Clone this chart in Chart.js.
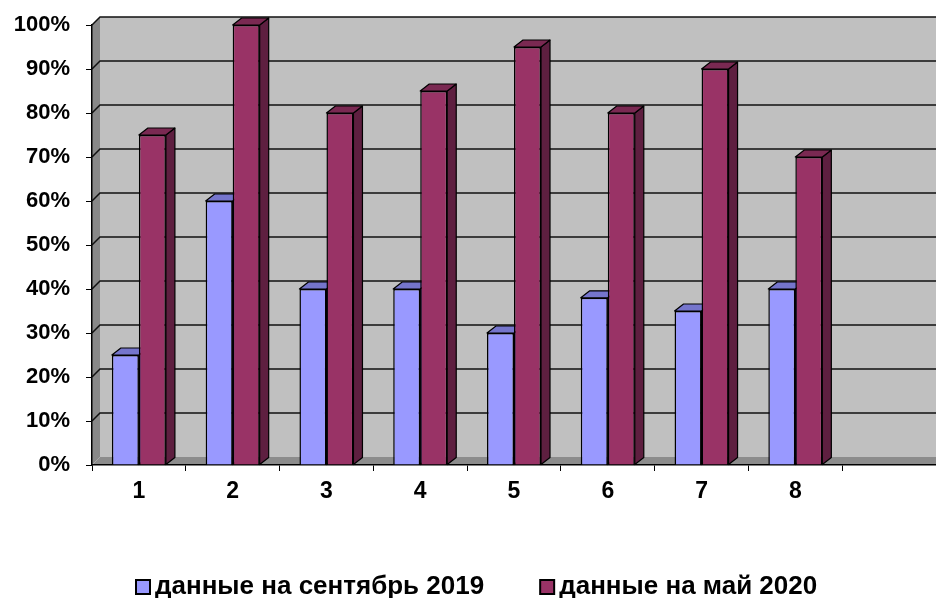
<!DOCTYPE html>
<html>
<head>
<meta charset="utf-8">
<script src="https://cdn.jsdelivr.net/npm/chart.js@4.4.1/dist/chart.umd.min.js"></script>
<style>
  html, body { margin: 0; background: #fff; }
  canvas { display: block; }
</style>
</head>
<body>
<canvas id="chart" width="936" height="598"></canvas>
<script>
/* ── data ── */
const CATEGORIES = ['1', '2', '3', '4', '5', '6', '7', '8', ''];
const SEP_2019 = [25, 60, 40, 40, 30, 38, 35, 40, null];
const MAY_2020 = [75, 100, 80, 85, 95, 80, 90, 70, null];
const SERIES_NAMES = ['данные на сентябрь 2019', 'данные на май 2020'];
const Y_TICKS = [0, 10, 20, 30, 40, 50, 60, 70, 80, 90, 100];

const FONT = '"Liberation Sans", Arial, sans-serif';
const FRONT = ['#9999FF', '#993366'];
const TOP = ['#7575CC', '#7A2952'];
const SIDE = ['#5E5EA3', '#5E1F40'];
const WALL_DX = 8, WALL_DY = 8;
const BAR_DX = 9, BAR_DY = 7;

/* Excel-style 3D box: walls + floor behind, then bar tops/sides before the front faces */
const depth3d = {
  id: 'depth3d',
  beforeDraw(chart) {
    const { ctx, chartArea: a } = chart;
    const y = chart.scales.y;
    ctx.save();
    ctx.fillStyle = '#C0C0C0';
    ctx.fillRect(a.left + WALL_DX, a.top - WALL_DY, a.right - a.left, a.bottom - a.top);

    ctx.fillStyle = '#888888';
    ctx.beginPath();
    ctx.moveTo(a.left, a.top);
    ctx.lineTo(a.left + WALL_DX, a.top - WALL_DY);
    ctx.lineTo(a.left + WALL_DX, a.bottom - WALL_DY);
    ctx.lineTo(a.left, a.bottom);
    ctx.closePath();
    ctx.fill();

    ctx.fillStyle = '#8C8C8C';
    ctx.beginPath();
    ctx.moveTo(a.left, a.bottom);
    ctx.lineTo(a.left + WALL_DX, a.bottom - WALL_DY);
    ctx.lineTo(a.right + WALL_DX, a.bottom - WALL_DY);
    ctx.lineTo(a.right, a.bottom);
    ctx.closePath();
    ctx.fill();

    ctx.strokeStyle = '#111';
    ctx.lineWidth = 1.5;
    Y_TICKS.forEach(v => {
      if (v === 0) return;
      const py = y.getPixelForValue(v);
      ctx.beginPath();
      ctx.moveTo(a.left, py);
      ctx.lineTo(a.left + WALL_DX, py - WALL_DY);
      ctx.lineTo(a.right + WALL_DX, py - WALL_DY);
      ctx.stroke();
    });
    ctx.restore();
  },
  beforeDatasetsDraw(chart) {
    const ctx = chart.ctx;
    ctx.save();
    ctx.strokeStyle = '#000';
    ctx.lineWidth = 1.2;
    ctx.lineJoin = 'round';
    chart.data.datasets.forEach((ds, i) => {
      chart.getDatasetMeta(i).data.forEach((bar, j) => {
        if (ds.data[j] == null) return;
        const { x, y, base, width } = bar.getProps(['x', 'y', 'base', 'width'], true);
        const l = x - width / 2, r = x + width / 2;
        ctx.fillStyle = SIDE[i];
        ctx.beginPath();
        ctx.moveTo(r, y);
        ctx.lineTo(r + BAR_DX, y - BAR_DY);
        ctx.lineTo(r + BAR_DX, base - BAR_DY);
        ctx.lineTo(r, base);
        ctx.closePath();
        ctx.fill(); ctx.stroke();
        ctx.fillStyle = TOP[i];
        ctx.beginPath();
        ctx.moveTo(l, y);
        ctx.lineTo(l + BAR_DX, y - BAR_DY);
        ctx.lineTo(r + BAR_DX, y - BAR_DY);
        ctx.lineTo(r, y);
        ctx.closePath();
        ctx.fill(); ctx.stroke();
      });
    });
    ctx.restore();
  }
};

/* legend row at the bottom, small square then text, like the Excel original */
const bottomLegend = {
  id: 'bottomLegend',
  afterDraw(chart) {
    const ctx = chart.ctx;
    const box = 14, gap = 5, spacing = 56, cy = 587;
    ctx.save();
    ctx.font = 'bold 26px ' + FONT;
    ctx.textBaseline = 'middle';
    let x = 136;
    chart.data.datasets.forEach(ds => {
      ctx.fillStyle = ds.backgroundColor;
      ctx.fillRect(x, cy - box / 2, box, box);
      ctx.strokeStyle = '#000';
      ctx.lineWidth = 2;
      ctx.strokeRect(x, cy - box / 2, box, box);
      ctx.fillStyle = '#000';
      ctx.fillText(ds.label, x + box + gap, cy);
      x += box + gap + ctx.measureText(ds.label).width + spacing;
    });
    ctx.restore();
  }
};

new Chart(document.getElementById('chart'), {
  type: 'bar',
  data: {
    labels: CATEGORIES,
    datasets: [
      { label: SERIES_NAMES[0], data: SEP_2019, backgroundColor: FRONT[0], borderColor: '#000', borderWidth: 1.5 },
      { label: SERIES_NAMES[1], data: MAY_2020, backgroundColor: FRONT[1], borderColor: '#000', borderWidth: 1.5 }
    ]
  },
  plugins: [depth3d, bottomLegend],
  options: {
    responsive: false,
    animation: false,
    layout: { padding: { left: 0, right: 0, top: 20, bottom: 0 } },
    datasets: { bar: { categoryPercentage: 0.576, barPercentage: 1 } },
    plugins: {
      tooltip: { enabled: false },
      legend: { display: false }
    },
    scales: {
      x: {
        afterFit: s => { s.height = 133; },
        grid: { display: true, drawOnChartArea: false, drawTicks: true, tickLength: 6, color: '#000', offset: true },
        border: { display: true, color: '#000', width: 1.5 },
        ticks: { color: '#000', padding: 7, font: { family: FONT, size: 23, weight: 'bold' } }
      },
      y: {
        min: 0, max: 100,
        afterFit: s => { s.width = 92; },
        afterBuildTicks: s => { s.ticks = Y_TICKS.map(v => ({ value: v })); },
        grid: { display: true, drawOnChartArea: false, drawTicks: true, tickLength: 6, color: '#000' },
        border: { display: true, color: '#000', width: 1.5 },
        ticks: { color: '#000', padding: 16, callback: v => v + '%', font: { family: FONT, size: 22, weight: 'bold', lineHeight: 0.82 } }
      }
    }
  }
});
</script>
</body>
</html>
